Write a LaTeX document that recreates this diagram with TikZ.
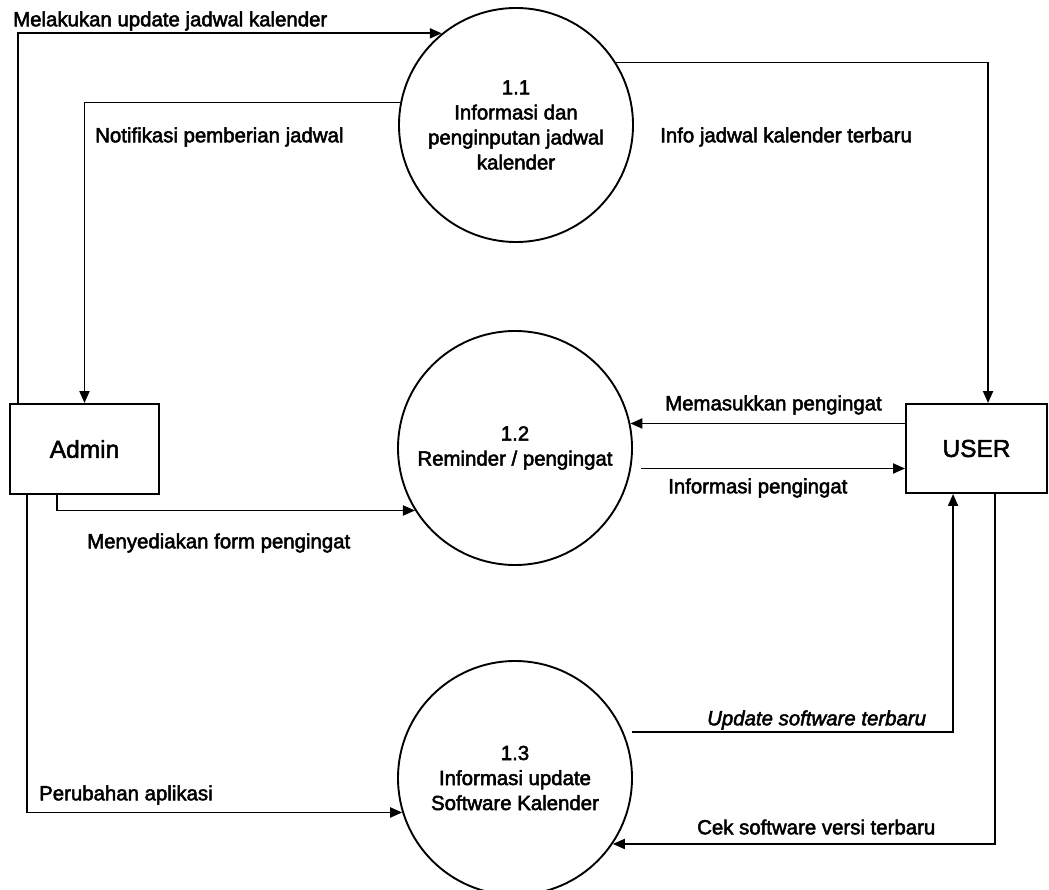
\documentclass[tikz,border=0pt]{standalone}
\usepackage{fontspec}
\setmainfont{Liberation Sans}
\usetikzlibrary{arrows.meta,calc}
\begin{document}
\begin{tikzpicture}[x=1pt,y=-1pt,
  heavy/.style={execute at begin node={\special{pdf:literal direct 2 Tr 0.5 w}},
                execute at end node={\special{pdf:literal direct 0 Tr}}},
  proc/.style={draw,circle,line width=1.9pt,minimum size=234pt,inner sep=0pt,align=center,heavy,font=\fontsize{20.4}{25}\selectfont},
  ent/.style={draw,rectangle,line width=1.9pt,inner sep=0pt,heavy,font=\fontsize{24.5}{29}\selectfont},
  flow/.style={line width=1.9pt,-{Triangle[length=12pt,width=10pt]}},
  lbl/.style={inner sep=0pt,anchor=west,heavy,font=\fontsize{20.4}{25}\selectfont}]
\useasboundingbox (0,0) rectangle (1049,890);
\node[proc] (c11) at (516,125) {1.1\\Informasi dan\\penginputan jadwal\\kalender};
\node[proc] (c12) at (515,448) {1.2\\Reminder / pengingat};
\node[proc] (c13) at (515,778) {1.3\\Informasi update\\Software Kalender};
\node[ent,minimum width=149pt,minimum height=90pt] (admin) at (84.5,449) {Admin};
\node[ent,minimum width=141pt,minimum height=89pt] (user) at (976.5,448.5) {USER};

\draw[flow] ($(admin.north west)+(9,0)$) |- (c11.129);
\draw[flow] (c11.169) -| (admin.north);
\draw[flow] (c11.32) -| ($(user.north west)+(83,0)$);
\draw[flow] (c12.12 -| user.west) -- (c12.12);
\draw[flow,shorten <=10pt] (c12.-10) -- (c12.-10 -| user.west);
\draw[flow] ($(admin.south west)+(48,0)$) |- (c12.212);
\draw[flow] ($(admin.south west)+(18,0)$) |- (c13.197);
\draw[flow,shorten <=8pt] (c13.23) -| ($(user.south west)+(48,0)$);
\draw[flow] ($(user.south west)+(90,0)$) |- (c13.-34);

\node[lbl] (l1) at (13,21) {Melakukan update jadwal kalender};
\node[lbl] (l2) at (95,137) {Notifikasi pemberian jadwal};
\node[lbl] (l3) at (660,137) {Info jadwal kalender terbaru};
\node[lbl] (l4) at (665,405) {Memasukkan pengingat};
\node[lbl] (l5) at (668,488) {Informasi pengingat};
\node[lbl] (l6) at (87,543) {Menyediakan form pengingat};
\node[lbl] (l7) at (39,795) {Perubahan aplikasi};
\node[lbl] (l8) at (707,720) {\itshape Update software terbaru};
\node[lbl] (l9) at (697,827) {Cek software versi terbaru};
\end{tikzpicture}
\end{document}
